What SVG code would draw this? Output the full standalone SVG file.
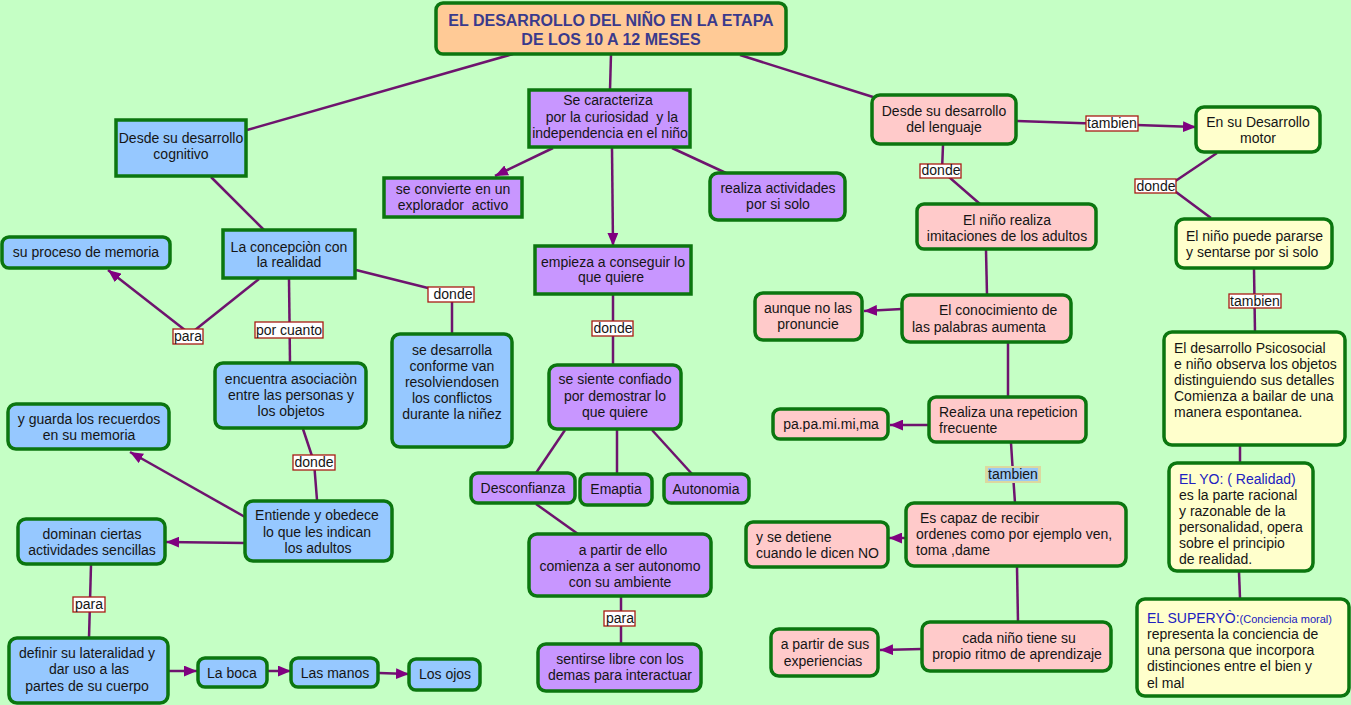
<svg xmlns="http://www.w3.org/2000/svg" width="1351" height="705" viewBox="0 0 1351 705">
<defs>
<style>
.n{stroke:#0b760f;stroke-width:3.5}
.b{fill:#96c8ff}.p{fill:#c896ff}.k{fill:#ffcaca}.y{fill:#ffffcc}.o{fill:#ffca96}
text{font-family:"Liberation Sans",Arial,sans-serif;font-size:14px;fill:#151515}
.c{text-anchor:middle}
.lb{fill:#fff;stroke:#a81c14;stroke-width:1.3}
.e{fill:none;stroke:#6e146e;stroke-width:2.5}
.ttl{font-size:16px;font-weight:bold;fill:#3a3a8c}
.bl{fill:#2020c0}
</style>
<marker id="a" viewBox="0 0 12 10" refX="12" refY="5" markerWidth="13" markerHeight="11" orient="auto" markerUnits="userSpaceOnUse"><path d="M0,0L12,5L0,10z" fill="#800080"/></marker>
</defs>
<rect width="1351" height="705" fill="#c5ffc5"/>
<g id="connectors">
<path class="e" d="M513,54L247,130"/>
<path class="e" d="M211,177L264,230"/>
<path class="e" d="M259,279L190,334"/>
<path class="e" d="M190,334L108,270" marker-end="url(#a)"/>
<path class="e" d="M289,279L290,363"/>
<path class="e" d="M356,270L452,294L452,334"/>
<path class="e" d="M303,429L314,462L317,500"/>
<path class="e" d="M245,517L130,452" marker-end="url(#a)"/>
<path class="e" d="M245,543L166,542" marker-end="url(#a)"/>
<path class="e" d="M91,565L89,638"/>
<path class="e" d="M169,671L197,671" marker-end="url(#a)"/>
<path class="e" d="M268,671L291,671" marker-end="url(#a)"/>
<path class="e" d="M379,673L409,674" marker-end="url(#a)"/>
<path class="e" d="M611,54L610,90"/>
<path class="e" d="M553,148L495,176" marker-end="url(#a)"/>
<path class="e" d="M672,148L726,173"/>
<path class="e" d="M612,148L613,246" marker-end="url(#a)"/>
<path class="e" d="M613,295L613,364"/>
<path class="e" d="M565,430L536,473"/>
<path class="e" d="M617,430L617,474"/>
<path class="e" d="M652,430L692,474"/>
<path class="e" d="M536,504L578,534"/>
<path class="e" d="M621,597L621,644"/>
<path class="e" d="M740,55L873,97"/>
<path class="e" d="M1017,121L1196,127" marker-end="url(#a)"/>
<path class="e" d="M943,145L942,171L980,204"/>
<path class="e" d="M986,250L987,295"/>
<path class="e" d="M902,309L864,311" marker-end="url(#a)"/>
<path class="e" d="M1008,343L1008,397"/>
<path class="e" d="M929,425L890,425" marker-end="url(#a)"/>
<path class="e" d="M1011,443L1013,474L1015,503"/>
<path class="e" d="M906,538L889,538" marker-end="url(#a)"/>
<path class="e" d="M1017,567L1018,622"/>
<path class="e" d="M922,649L880,650" marker-end="url(#a)"/>
<path class="e" d="M1217,153L1168,186L1211,218"/>
<path class="e" d="M1254,269L1255,332"/>
<path class="e" d="M1240,446L1240,463"/>
<path class="e" d="M1239,572L1240,598"/>
</g>
<g id="labels">
<rect class="lb" x="173" y="329" width="30" height="15"/><text class="c" x="188" y="341">para</text>
<rect class="lb" x="255" y="322" width="68" height="16"/><text class="c" x="289" y="335">por cuanto</text>
<rect class="lb" x="428" y="287" width="46" height="15"/><text class="c" x="453" y="299">donde</text>
<rect class="lb" x="293" y="455" width="42" height="15"/><text class="c" x="314" y="467">donde</text>
<rect class="lb" x="73" y="597" width="32" height="15"/><text class="c" x="89" y="609">para</text>
<rect class="lb" x="592" y="321" width="41" height="15"/><text class="c" x="613" y="333">donde</text>
<rect class="lb" x="604" y="611" width="31" height="15"/><text class="c" x="620" y="623">para</text>
<rect class="lb" x="1086" y="116" width="52" height="15"/><text class="c" x="1112" y="128">tambien</text>
<rect class="lb" x="920" y="164" width="41" height="14"/><text class="c" x="941" y="175">donde</text>
<rect x="985" y="466" width="56" height="17" fill="#dcd8a0"/><rect x="988" y="468" width="50" height="13" fill="#9ac8f4"/><text class="c" x="1013" y="479">tambien</text>
<rect class="lb" x="1135" y="179" width="41" height="14"/><text class="c" x="1156" y="191">donde</text>
<rect class="lb" x="1229" y="294" width="52" height="14"/><text class="c" x="1255" y="306">tambien</text>
</g>
<g id="title"><rect class="n o" x="436" y="3" width="350" height="51" rx="7"/><text class="c ttl" x="611" y="26">EL DESARROLLO DEL NIÑO EN LA ETAPA</text><text class="c ttl" x="611" y="45">DE LOS 10 A 12 MESES</text></g>
<g id="cognitivo"><rect class="n b" x="116" y="120" width="130" height="56"/><text class="c" x="181" y="143">Desde su desarrollo</text><text class="c" x="181" y="159">cognitivo</text></g>
<g id="memoria"><rect class="n b" x="2" y="237" width="168" height="31" rx="7"/><text class="c" x="86" y="257">su proceso de memoria</text></g>
<g id="concepcion"><rect class="n b" x="223" y="230" width="132" height="48"/><text class="c" x="289" y="252">La concepciòn con</text><text class="c" x="289" y="267">la realidad</text></g>
<g id="desarrolla"><rect class="n b" x="392" y="334" width="120" height="113" rx="8"/><text class="c" x="452" y="355">se desarrolla</text><text class="c" x="452" y="371">conforme van</text><text class="c" x="452" y="387">resolviendosen</text><text class="c" x="452" y="403">los conflictos</text><text class="c" x="452" y="419">durante la niñez</text></g>
<g id="encuentra"><rect class="n b" x="215" y="363" width="151" height="65" rx="8"/><text class="c" x="291" y="384">encuentra asociaciòn</text><text class="c" x="291" y="400">entre las personas y</text><text class="c" x="291" y="416">los objetos</text></g>
<g id="entiende"><rect class="n b" x="245" y="501" width="147" height="60" rx="8"/><text class="c" x="317" y="520">Entiende y obedece</text><text class="c" x="317" y="537">lo que les indican</text><text class="c" x="318" y="553">los adultos</text></g>
<g id="guarda"><rect class="n b" x="8" y="404" width="161" height="45" rx="8"/><text class="c" x="89" y="424">y guarda los recuerdos</text><text class="c" x="89" y="440">en su memoria</text></g>
<g id="dominan"><rect class="n b" x="18" y="519" width="147" height="45" rx="8"/><text class="c" x="92" y="539">dominan ciertas</text><text class="c" x="92" y="555">actividades sencillas</text></g>
<g id="definir"><rect class="n b" x="9" y="638" width="159" height="65" rx="8"/><text class="c" x="87" y="658">definir su lateralidad y</text><text class="c" x="89" y="674">dar uso a las</text><text class="c" x="87" y="691">partes de su cuerpo</text></g>
<g id="boca"><rect class="n b" x="198" y="658" width="69" height="29" rx="7"/><text class="c" x="232" y="678">La boca</text></g>
<g id="manos"><rect class="n b" x="291" y="658" width="87" height="29" rx="7"/><text class="c" x="335" y="678">Las manos</text></g>
<g id="ojos"><rect class="n b" x="409" y="659" width="71" height="31" rx="7"/><text class="c" x="445" y="679">Los ojos</text></g>
<g id="caracteriza"><rect class="n p" x="529" y="90" width="161" height="57"/><text class="c" x="608" y="105">Se caracteriza</text><text class="c" x="610" y="122" xml:space="preserve"> por la curiosidad  y la</text><text class="c" x="610" y="138">independencia en el niño</text></g>
<g id="convierte"><rect class="n p" x="384" y="178" width="138" height="39"/><text class="c" x="453" y="194">se convierte en un</text><text class="c" x="453" y="210" xml:space="preserve">explorador  activo</text></g>
<g id="realiza"><rect class="n p" x="710" y="173" width="135" height="47" rx="8"/><text class="c" x="778" y="193">realiza actividades</text><text class="c" x="778" y="209">por si solo</text></g>
<g id="empieza"><rect class="n p" x="535" y="246" width="156" height="48"/><text class="c" x="613" y="267">empieza a conseguir lo</text><text class="c" x="611" y="282">que quiere</text></g>
<g id="confiado"><rect class="n p" x="549" y="365" width="132" height="64" rx="8"/><text class="c" x="615" y="384">se siente confiado</text><text class="c" x="615" y="401">por demostrar lo</text><text class="c" x="615" y="417">que quiere</text></g>
<g id="desconfianza"><rect class="n p" x="471" y="473" width="104" height="30" rx="7"/><text class="c" x="523" y="493">Desconfianza</text></g>
<g id="emaptia"><rect class="n p" x="580" y="474" width="72" height="31" rx="7"/><text class="c" x="616" y="494">Emaptia</text></g>
<g id="autonomia"><rect class="n p" x="664" y="474" width="85" height="29" rx="7"/><text class="c" x="706" y="494">Autonomia</text></g>
<g id="apartir"><rect class="n p" x="529" y="534" width="182" height="62" rx="8"/><text class="c" x="623" y="555">a partir de ello</text><text class="c" x="620" y="571">comienza a ser autonomo</text><text class="c" x="620" y="587">con su ambiente</text></g>
<g id="sentirse"><rect class="n p" x="538" y="644" width="163" height="47" rx="8"/><text class="c" x="620" y="664">sentirse libre con los</text><text class="c" x="620" y="680">demas para interactuar</text></g>
<g id="lenguaje"><rect class="n k" x="872" y="95" width="144" height="49" rx="8"/><text class="c" x="944" y="116">Desde su desarrollo</text><text class="c" x="944" y="132">del lenguaje</text></g>
<g id="imitaciones"><rect class="n k" x="917" y="204" width="179" height="45" rx="7"/><text class="c" x="1007" y="225">El niño realiza</text><text class="c" x="1007" y="241">imitaciones de los adultos</text></g>
<g id="conocimiento"><rect class="n k" x="902" y="295" width="169" height="47" rx="8"/><text x="939" y="315">El conocimiento de</text><text x="912" y="332">las palabras aumenta</text></g>
<g id="aunque"><rect class="n k" x="755" y="293" width="107" height="47" rx="8"/><text class="c" x="808" y="313">aunque no las</text><text class="c" x="808" y="329">pronuncie</text></g>
<g id="repeticion"><rect class="n k" x="929" y="397" width="157" height="45" rx="7"/><text x="939" y="417">Realiza una repeticion</text><text x="939" y="433">frecuente</text></g>
<g id="papa"><rect class="n k" x="773" y="409" width="115" height="30" rx="7"/><text class="c" x="831" y="429">pa.pa.mi.mi,ma</text></g>
<g id="capaz"><rect class="n k" x="906" y="503" width="220" height="63" rx="8"/><text x="920" y="523">Es capaz de recibir</text><text x="916" y="539">ordenes como por ejemplo ven,</text><text x="916" y="555">toma ,dame</text></g>
<g id="detiene"><rect class="n k" x="746" y="522" width="142" height="45" rx="7"/><text x="756" y="542">y se detiene</text><text x="756" y="558">cuando le dicen NO</text></g>
<g id="ritmo"><rect class="n k" x="922" y="622" width="189" height="49" rx="8"/><text class="c" x="1019" y="643">cada niño tiene su</text><text class="c" x="1017" y="659">propio ritmo de aprendizaje</text></g>
<g id="experiencias"><rect class="n k" x="771" y="629" width="107" height="47" rx="8"/><text class="c" x="825" y="649">a partir de sus</text><text class="c" x="823" y="666">experiencias</text></g>
<g id="motor"><rect class="n y" x="1196" y="107" width="124" height="45" rx="8"/><text class="c" x="1258" y="127">En su Desarrollo</text><text class="c" x="1258" y="143">motor</text></g>
<g id="pararse"><rect class="n y" x="1176" y="219" width="156" height="49" rx="8"/><text x="1186" y="241">El niño puede pararse</text><text x="1186" y="257">y sentarse por si solo</text></g>
<g id="psicosocial"><rect class="n y" x="1164" y="332" width="181" height="113" rx="8"/><text x="1174" y="353">El desarrollo Psicosocial</text><text x="1174" y="369">e niño observa los objetos</text><text x="1174" y="385">distinguiendo sus detalles</text><text x="1174" y="401">Comienza a bailar de una</text><text x="1174" y="417">manera espontanea.</text></g>
<g id="yo"><rect class="n y" x="1169" y="463" width="144" height="108" rx="8"/><text class="bl" x="1179" y="484">EL YO: ( Realidad)</text><text x="1179" y="500">es la parte racional</text><text x="1179" y="516">y razonable de la</text><text x="1179" y="532">personalidad, opera</text><text x="1179" y="548">sobre el principio</text><text x="1179" y="564">de realidad.</text></g>
<g id="superyo"><rect class="n y" x="1137" y="599" width="212" height="97" rx="8"/><text class="bl" x="1147" y="623">EL SUPERYÒ:<tspan style="font-size:11px">(Conciencia moral)</tspan></text><text x="1147" y="639">representa la conciencia de</text><text x="1147" y="655">una persona que incorpora</text><text x="1147" y="671">distinciones entre el bien y</text><text x="1147" y="688">el mal</text></g>
</svg>
